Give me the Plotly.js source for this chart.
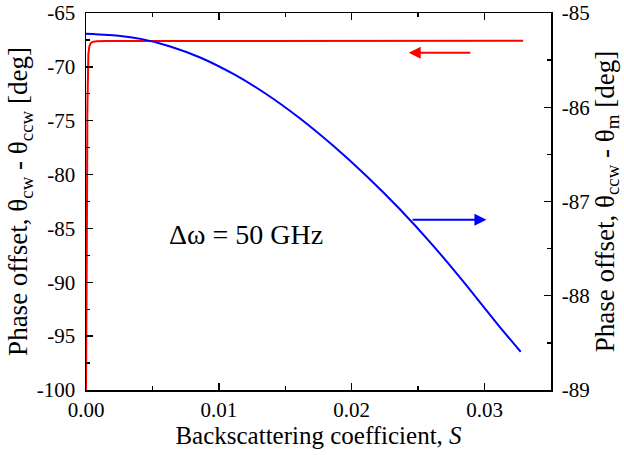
<!DOCTYPE html>
<html>
<head>
<meta charset="utf-8">
<script src="https://cdn.plot.ly/plotly-3.0.1.min.js"></script>
<style>
html,body{margin:0;padding:0;background:#fff;}
#chart{width:624px;height:455px;}
</style>
</head>
<body>
<div id="chart"></div>
<script>
// Red series (left axis): theta_cw - theta_ccw
const redS = [0, 0.00005, 0.00008, 0.0001, 0.00013, 0.00018, 0.00025, 0.00035, 0.0005, 0.0008, 0.0015, 0.005, 0.01, 0.02, 0.0329];
const redPhase = [-100, -92, -82, -74, -70.5, -68.8, -68.1, -67.8, -67.68, -67.62, -67.6, -67.6, -67.6, -67.6, -67.58];
// Blue series (right axis): theta_ccw - theta_m
const blueS = [0, 0.00259, 0.00431, 0.00634, 0.00859, 0.01109, 0.01359, 0.01609, 0.01859, 0.02109, 0.02359, 0.02609, 0.02859, 0.03109, 0.03272];
const bluePhase = [-85.220, -85.243, -85.280, -85.355, -85.472, -85.647, -85.862, -86.117, -86.407, -86.727, -87.077, -87.462, -87.882, -88.322, -88.594];
// Tick labels
const xTickVals = [0, 0.01, 0.02, 0.03];
const xTickText = ["0.00", "0.01", "0.02", "0.03"];
const yTickVals = [-100, -95, -90, -85, -80, -75, -70, -65];
const yTickText = ["-100", "-95", "-90", "-85", "-80", "-75", "-70", "-65"];
const y2TickVals = [-89, -88, -87, -86, -85];
const y2TickText = ["-89", "-88", "-87", "-86", "-85"];

const FONT = 'Liberation Serif';

const traces = [
  {x: redS, y: redPhase, type: 'scatter', mode: 'lines', line: {color: '#ff0000', width: 2}, yaxis: 'y', showlegend: false, hoverinfo: 'skip'},
  {x: blueS, y: bluePhase, type: 'scatter', mode: 'lines', line: {color: '#0000ff', width: 2, shape: 'spline', smoothing: 0.6}, yaxis: 'y2', showlegend: false, hoverinfo: 'skip'}
];

function axisCommon() {
  return {
    showline: true, linecolor: '#000', linewidth: 1.5, ticks: 'inside', ticklen: 7, tickwidth: 1.3, tickcolor: '#000',
    showgrid: false, zeroline: false, tickfont: {family: FONT, size: 21, color: '#000'}, tickmode: 'array'
  };
}

const layout = {
  width: 624, height: 455,
  margin: {l: 86, r: 73, t: 13, b: 65},
  paper_bgcolor: '#fff', plot_bgcolor: '#fff',
  font: {family: FONT, size: 21, color: '#000'},
  xaxis: Object.assign(axisCommon(), {
    range: [0, 0.035], tickvals: xTickVals, ticktext: xTickText, mirror: 'ticks',
    minor: {tickmode: 'linear', tick0: 0, dtick: 0.005, ticks: 'inside', ticklen: 4, tickcolor: '#000', tickwidth: 1.3},
    title: {text: 'Backscattering coefficient, <i>S</i>', font: {family: FONT, size: 25, color: '#000'}, standoff: 4}
  }),
  yaxis: Object.assign(axisCommon(), {
    range: [-100, -65], tickvals: yTickVals, ticktext: yTickText, ticklabelstandoff: 5,
    minor: {tickmode: 'linear', tick0: -100, dtick: 2.5, ticks: 'inside', ticklen: 4, tickcolor: '#000', tickwidth: 1.3},
    title: {text: 'Phase offset, θ<sub>cw</sub> - θ<sub>ccw</sub> [deg]', font: {family: FONT, size: 27, color: '#000'}, standoff: 1}
  }),
  yaxis2: Object.assign(axisCommon(), {
    range: [-89, -85], tickvals: y2TickVals, ticktext: y2TickText, overlaying: 'y', side: 'right', ticklabelstandoff: 5,
    minor: {tickmode: 'linear', tick0: -89, dtick: 0.5, ticks: 'inside', ticklen: 4, tickcolor: '#000', tickwidth: 1.3},
    title: {text: 'Phase offset, θ<sub>ccw</sub> - θ<sub>m</sub> [deg]', font: {family: FONT, size: 27, color: '#000'}, standoff: 3}
  }),
  annotations: [
    {xref: 'x', yref: 'y', x: 0.02429, y: -68.69, axref: 'x', ayref: 'y', ax: 0.02904, ay: -68.69,
     showarrow: true, arrowhead: 2, arrowsize: 1.2, arrowwidth: 2, arrowcolor: '#ff0000', text: ''},
    {xref: 'x', yref: 'y2', x: 0.03014, y: -87.193, axref: 'x', ayref: 'y2', ax: 0.02447, ay: -87.193,
     showarrow: true, arrowhead: 2, arrowsize: 1.2, arrowwidth: 2, arrowcolor: '#0000ff', text: ''},
    {xref: 'x', yref: 'y', x: 0.01207, y: -85.52, showarrow: false, text: 'Δω = 50 GHz',
     font: {family: FONT, size: 28, color: '#000'}}
  ]
};

Plotly.newPlot('chart', traces, layout, {staticPlot: true, displayModeBar: false});
</script>
</body>
</html>
